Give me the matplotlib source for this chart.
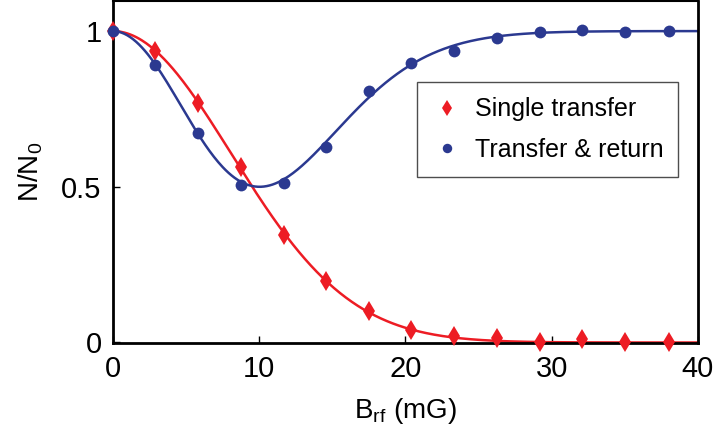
import numpy as np
import matplotlib
matplotlib.use("Agg")
from matplotlib import pyplot as plt

plt.rcParams['font.family'] = ['Liberation Sans', 'DejaVu Sans']
plt.rcParams['mathtext.default'] = 'regular'

red = '#ed1c24'
blue = '#2b3990'

# data
b_rf = [0, 2.9, 5.8, 8.8, 11.7, 14.6, 17.5, 20.4, 23.3, 26.3, 29.2, 32.1, 35.0, 38.0]
single = [1.0, 0.936, 0.77, 0.563, 0.344, 0.197, 0.10, 0.04, 0.02, 0.015, 0.001, 0.01, 0.0, 0.002]
ret = [1.0, 0.892, 0.672, 0.506, 0.513, 0.628, 0.808, 0.899, 0.936, 0.977, 0.998, 1.004, 0.998, 1.0]

b = np.array(b_rf)
s = np.array(single)
t = np.array(ret)

# least squares fit of the width, gaussian transfer model
widths = np.linspace(5, 20, 3001)
def p1(x, w):
    return np.exp(-(x / w) ** 2)
def p2(x, w):
    r = p1(x, w)
    return r ** 2 + (1 - r) ** 2

w1 = widths[np.argmin([np.sum((p1(b, w) - s) ** 2) for w in widths])]
w2 = widths[np.argmin([np.sum((p2(b, w) - t) ** 2) for w in widths])]
xf = np.linspace(0, 40, 400)

fig = plt.figure(figsize=(7.18, 4.42), dpi=100)
ax = fig.add_axes([0.157, 0.223, 0.815, 0.775])

ax.plot(xf, p1(xf, w1), color=red, lw=1.8, zorder=2)
ax.plot(xf, p2(xf, w2), color=blue, lw=1.8, zorder=2)
ax.plot(b, s, 'd', color=red, ms=10.5, mew=0, label='Single transfer', zorder=3, clip_on=False)
ax.plot(b, t, 'o', color=blue, ms=8.5, mew=0, label='Transfer & return', zorder=3, clip_on=False)

ax.set_xlim(0, 40)
ax.set_ylim(-0.003, 1.097)
ax.set_xticks([0, 10, 20, 30, 40])
ax.set_yticks([0, 0.5, 1])
ax.set_yticklabels(['0', '0.5', '1'])
ax.tick_params(direction='in', length=5, width=1, labelsize=21, pad=8)

for sp in ['left', 'bottom', 'right']:
    ax.spines[sp].set_linewidth(2)
ax.spines['top'].set_linewidth(1.5)

ax.set_xlabel('B$_{rf}$ (mG)', fontsize=20, labelpad=10)
ax.set_ylabel('N/N$_0$', fontsize=20, labelpad=12)

leg = ax.legend(loc='upper left', bbox_to_anchor=(0.52, 0.762), fontsize=18,
                frameon=True, fancybox=False, handletextpad=0.5, borderpad=0.6,
                labelspacing=0.65, handlelength=1.2, borderaxespad=0, markerscale=0.8)
leg.get_frame().set_edgecolor('#222222')
leg.get_frame().set_linewidth(1)

plt.savefig('out.png', dpi=100)
